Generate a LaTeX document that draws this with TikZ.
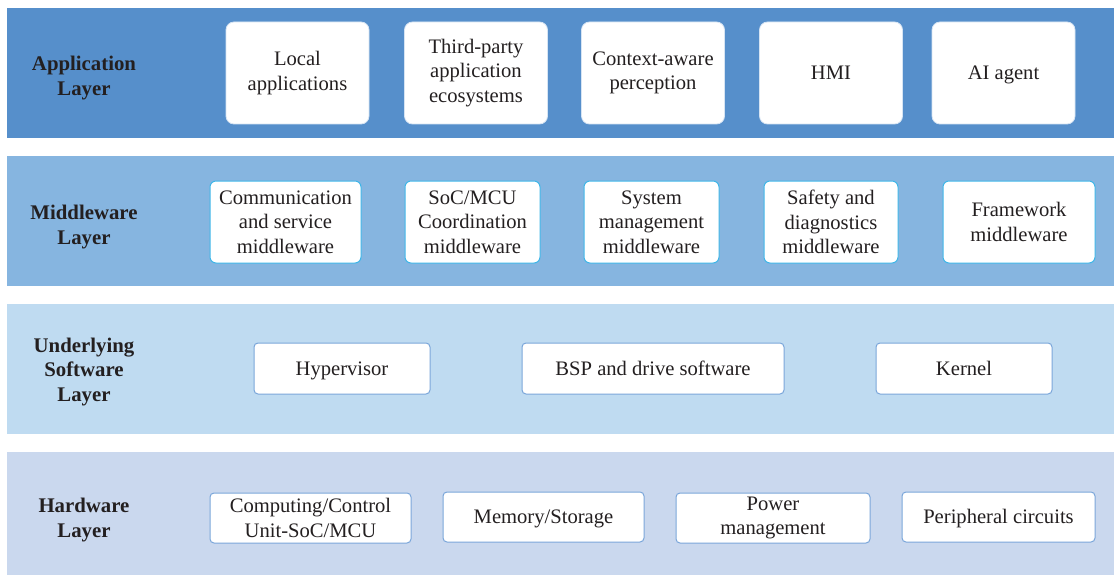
\documentclass[tikz,border=0pt]{standalone}
\usepackage{fontspec}
\setmainfont{Liberation Serif}
\usepackage{tikz}
\definecolor{appblue}{HTML}{568FCB}
\definecolor{midblue}{HTML}{86B5E0}
\definecolor{swblue}{HTML}{BFDBF1}
\definecolor{hwblue}{HTML}{CAD8EE}
\definecolor{textgray}{HTML}{231F20}
\definecolor{appedge}{HTML}{D6E4F3}
\definecolor{midedge}{HTML}{3FB6E8}
\definecolor{lowedge}{HTML}{7AA6DA}

\begin{document}
\begin{tikzpicture}[
      x=1pt, y=-1pt,
      font=\fontsize{20.6}{24.5}\selectfont,
      text=textgray,
      layer label/.style={font=\fontsize{20.8}{24.5}\selectfont\bfseries, align=center},
      item/.style={fill=white, align=center, inner sep=0pt},
      one line/.style={text height=13.5pt, text depth=0pt},
      app item/.style={item, draw=appedge, line width=0.8pt, rounded corners=8pt,
        minimum width=143, minimum height=102},
      mid item/.style={item, draw=midedge, line width=1pt, rounded corners=6pt,
        minimum height=82},
      low item/.style={item, draw=lowedge, line width=1pt, rounded corners=4pt}
    ]
    \useasboundingbox (0,0) rectangle (1114,575);
    % layer bands
    \fill[appblue] (7,8) rectangle (1114,138);
    \fill[midblue] (7,156) rectangle (1114,286);
    \fill[swblue] (7,304) rectangle (1114,434);
    \fill[hwblue] (7,452) rectangle (1114,575);
    \node[layer label] (appL) at (84,78) {Application\\Layer};
    \node[layer label] (midL) at (84,227) {Middleware\\Layer};
    \node[layer label] (swL) at (84,372) {Underlying\\Software\\Layer};
    \node[layer label] (hwL) at (84,520) {Hardware\\Layer};
    % application layer
    \foreach \n/\x/\t in {local/297.5/{Local\\applications},
        third/476/{Third-party\\application\\ecosystems},
        context/653/{Context-aware\\perception}} {
      \node[app item] (\n) at (\x,73) {\t};
    }
    \foreach \n/\x/\t in {hmi/831/{HMI}, agent/1003.5/{AI agent}} {
      \node[app item, one line] (\n) at (\x,73) {\t};
    }
    % middleware layer
    \foreach \n/\x/\w/\t in {comm/285.5/151/{Communication\\and service\\middleware},
        coord/472.5/135/{SoC/MCU\\Coordination\\middleware},
        sysman/651.5/135/{System\\management\\middleware},
        safety/831/134/{Safety and\\diagnostics\\middleware},
        frame/1019/152/{Framework\\middleware}} {
      \node[mid item, minimum width=\w] (\n) at (\x,222) {\t};
    }
    % underlying software layer
    \foreach \n/\x/\w/\t in {hyper/342/176/{Hypervisor},
        bsp/653/262/{BSP and drive software},
        kernel/964/176/{Kernel}} {
      \node[low item, one line, minimum width=\w, minimum height=51] (\n) at (\x,368.5) {\t};
    }
    % hardware layer
    \foreach \n/\x/\w/\t in {cpu/310.5/201/{Computing/Control\\Unit-SoC/MCU},
        power/773/194/{Power\\management}} {
      \node[low item, minimum width=\w, minimum height=50] (\n) at (\x,518) {\t};
    }
    \foreach \n/\x/\w/\t in {mem/543.5/201/{Memory/Storage},
        periph/998.5/193/{Peripheral circuits}} {
      \node[low item, one line, minimum width=\w, minimum height=50] (\n) at (\x,517) {\t};
    }
    \end{tikzpicture}
\end{document}
